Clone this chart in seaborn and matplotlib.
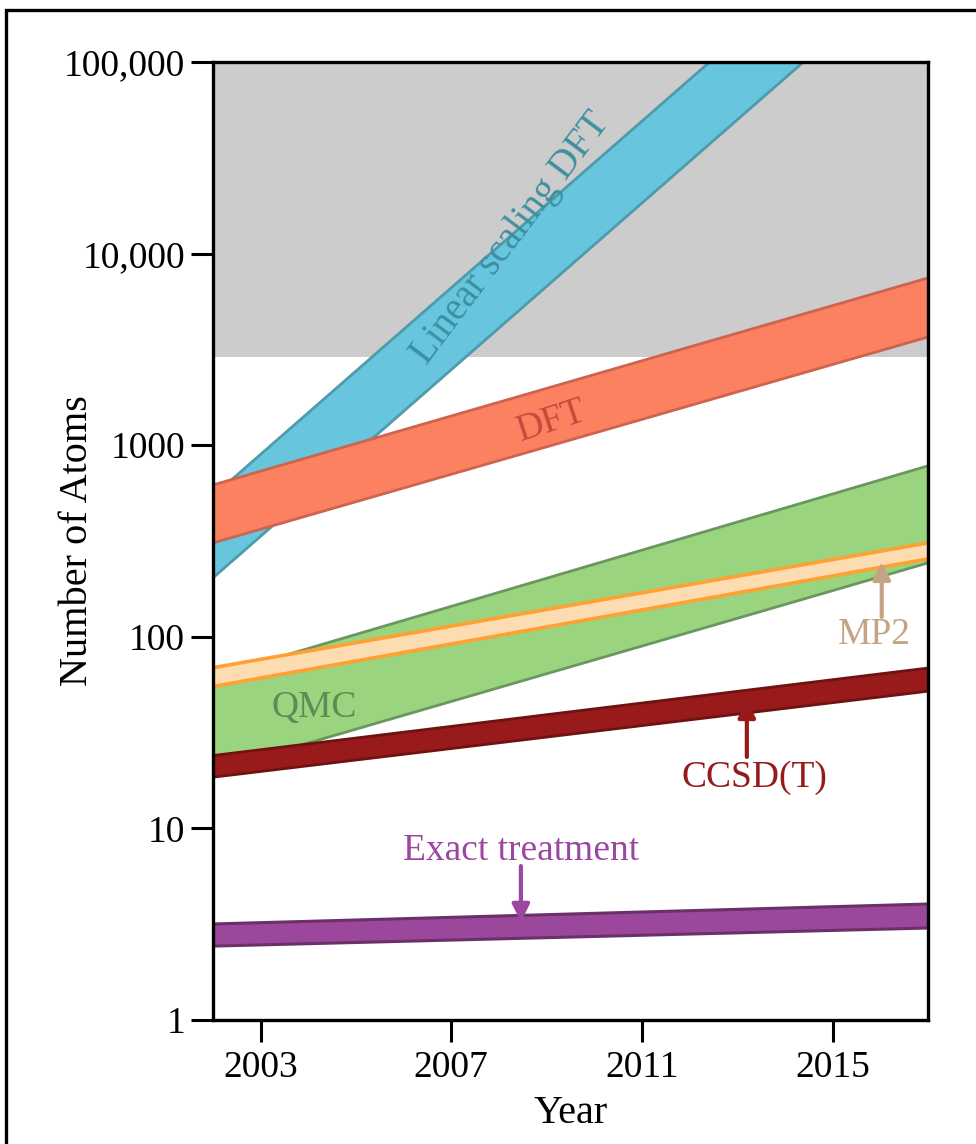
import pandas as pd
import seaborn as sns
from matplotlib import pyplot as plt
from matplotlib.patches import Rectangle

# band edges at the two ends of the time axis (number of atoms)
years = [2002, 2017]
methods = ["Linear scaling DFT", "DFT", "QMC", "MP2", "CCSD(T)", "Exact treatment"]
lows = {
    "Linear scaling DFT": [203, 370000],
    "DFT": [309, 3670],
    "QMC": [20, 243],
    "MP2": [55, 255],
    "CCSD(T)": [18.5, 52],
    "Exact treatment": [2.43, 3.02],
}
highs = {
    "Linear scaling DFT": [543, 990000],
    "DFT": [620, 7460],
    "QMC": [62, 780],
    "MP2": [69, 309],
    "CCSD(T)": [24, 68.7],
    "Exact treatment": [3.17, 4.03],
}
gray_region = [2900, 100000]
fills = {
    "Linear scaling DFT": "#67c5dd",
    "DFT": "#fc8160",
    "QMC": "#9bd47e",
    "MP2": "#fddcb2",
    "CCSD(T)": "#991a1a",
    "Exact treatment": "#9b479b",
}
edges = {
    "Linear scaling DFT": "#4e9bab",
    "DFT": "#cc6450",
    "QMC": "#6a9660",
    "MP2": "#ffa033",
    "CCSD(T)": "#6e1212",
    "Exact treatment": "#6a306a",
}
edge_w = {"Linear scaling DFT": 2, "DFT": 2, "QMC": 2, "MP2": 2.6, "CCSD(T)": 2, "Exact treatment": 2.2}

rows = []
for m in methods:
    for y, lo, hi in zip(years, lows[m], highs[m]):
        rows.append([m, y, lo, hi])
df = pd.DataFrame(rows, columns=["method", "year", "low", "high"])

sns.set_theme(style="ticks")
plt.rcParams['font.family'] = ['Liberation Serif', 'DejaVu Serif']

fig = plt.figure(figsize=(9.76, 11.44), dpi=100)
ax = fig.add_axes([0.2182, 0.1084, 0.7326, 0.8374])

ax.set_yscale('log')
ax.set_xlim(2002, 2017)
ax.set_ylim(1, 100000)

ax.fill_between(years, gray_region[0], gray_region[1], color="#cccccc", lw=0, zorder=0)

for i, m in enumerate(methods):
    d = df[df.method == m]
    ax.fill_between(d.year, d.low, d.high, color=fills[m], lw=0, zorder=2 + i)
    sns.lineplot(data=d, x="year", y="low", color=edges[m], lw=edge_w[m], ax=ax, zorder=2 + i)
    sns.lineplot(data=d, x="year", y="high", color=edges[m], lw=edge_w[m], ax=ax, zorder=2 + i)

FS = 27
# labels on the bands
ax.text(2008.25, 12000, "Linear scaling DFT", color="#3d8fa0", fontsize=FS + 1, rotation=53,
        ha='center', va='center', rotation_mode='anchor', zorder=20)
ax.text(2009.1, 1337, "DFT", color="#c24c3c", fontsize=FS, rotation=18,
        ha='center', va='center', rotation_mode='anchor', zorder=20)
ax.text(2004.12, 42.5, "QMC", color="#5f8a55", fontsize=FS, ha='center', va='center', zorder=20)
ax.text(2015.87, 102, "MP2", color="#c4a482", fontsize=FS, ha='center', va='center', zorder=20)
ax.text(2013.35, 18.3, "CCSD(T)", color="#961a1a", fontsize=FS, ha='center', va='center', zorder=20)
ax.text(2008.46, 7.62, "Exact treatment", color="#9b47a0", fontsize=FS, ha='center', va='center', zorder=20)

# arrows pointing at the thin bands
arrows = [
    ((2016.03, 246), (2016.03, 127), "#c4a482"),
    ((2013.2, 46.8), (2013.2, 23.6), "#961a1a"),
    ((2008.46, 3.25), (2008.46, 6.36), "#9b47a0"),
]
for tip, tail, c in arrows:
    ax.annotate("", xy=tip, xytext=tail, zorder=20,
                arrowprops=dict(arrowstyle='-|>', color=c, lw=3, mutation_scale=26, shrinkA=0, shrinkB=0))

ax.set_yticks([1, 10, 100, 1000, 10000, 100000])
ax.set_yticklabels(["1", "10", "100", "1000", "10,000", "100,000"])
ax.minorticks_off()
ax.set_xticks([2003, 2007, 2011, 2015])
ax.set_xticklabels(["2003", "2007", "2011", "2015"])
ax.tick_params(axis='both', length=16, width=2.2, labelsize=FS, color='black', labelcolor='black', pad=4)
ax.tick_params(axis='x', pad=6)
ax.set_xlabel("Year", fontsize=29, color='black', labelpad=7)
ax.set_ylabel("Number of Atoms", fontsize=29, color='black')
ax.yaxis.set_label_coords(-0.163, 0.5)
for s in ax.spines.values():
    s.set_linewidth(2.4)
    s.set_color('black')
    s.set_zorder(30)

# outer frame of the figure
fig.patches.append(Rectangle((6 / 976, -0.1), 1.2, 1.1 - 9.5 / 1144, transform=fig.transFigure,
                             fill=False, edgecolor='black', lw=2.4))

fig.savefig("out.png", dpi=100)
